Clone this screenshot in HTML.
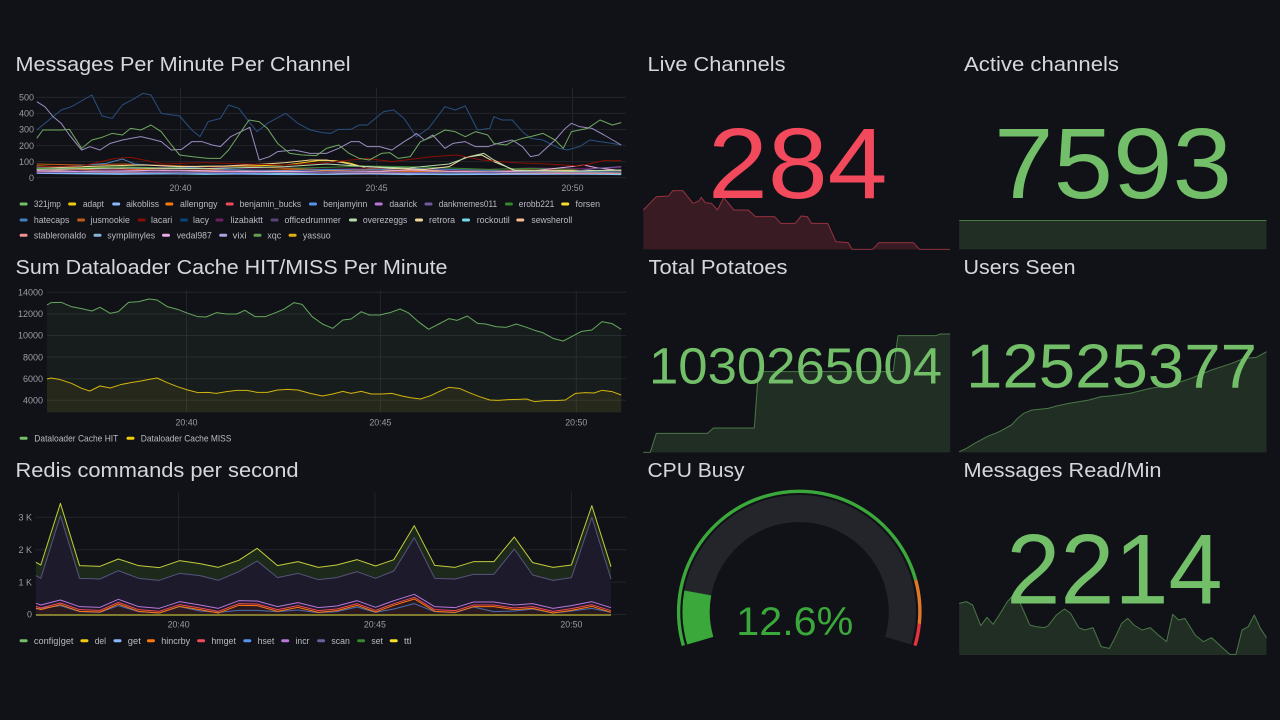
<!DOCTYPE html>
<html><head><meta charset="utf-8"><style>
html,body{margin:0;padding:0;background:#111217;}
svg{display:block;font-family:"Liberation Sans",sans-serif;}
.t{fill:#d6d7dc;font-size:20px;}
.ax{fill:#9b9ca6;font-size:9px;}
.lg{fill:#b9bac2;font-size:9px;}
.ln{fill:none;stroke-width:1;vector-effect:non-scaling-stroke;stroke-linejoin:round;}
.g{stroke:#22242a;stroke-width:1;}
</style></head><body>
<svg width="1280" height="720" viewBox="0 0 1280 720" xmlns="http://www.w3.org/2000/svg">
<rect width="1280" height="720" fill="#111217"/>

<!-- ============ Chart 1 ============ -->
<text class="t" x="15.5" y="71" textLength="335" lengthAdjust="spacingAndGlyphs">Messages Per Minute Per Channel</text>
<g>
<line class="g" x1="36" y1="97.4" x2="626" y2="97.4"/>
<line class="g" x1="36" y1="113.4" x2="626" y2="113.4"/>
<line class="g" x1="36" y1="129.5" x2="626" y2="129.5"/>
<line class="g" x1="36" y1="145.6" x2="626" y2="145.6"/>
<line class="g" x1="36" y1="161.6" x2="626" y2="161.6"/>
<line class="g" x1="36" y1="177.7" x2="626" y2="177.7"/>
<line class="g" x1="180.5" y1="88" x2="180.5" y2="178"/>
<line class="g" x1="376.5" y1="88" x2="376.5" y2="178"/>
<line class="g" x1="572.5" y1="88" x2="572.5" y2="178"/>
</g>
<g text-anchor="end">
<text class="ax" x="34" y="100.6">500</text>
<text class="ax" x="34" y="116.6">400</text>
<text class="ax" x="34" y="132.7">300</text>
<text class="ax" x="34" y="148.8">200</text>
<text class="ax" x="34" y="164.8">100</text>
<text class="ax" x="34" y="180.9">0</text>
</g>
<g text-anchor="middle">
<text class="ax" x="180.5" y="191" textLength="22" lengthAdjust="spacingAndGlyphs">20:40</text>
<text class="ax" x="376.5" y="191" textLength="22" lengthAdjust="spacingAndGlyphs">20:45</text>
<text class="ax" x="572.5" y="191" textLength="22" lengthAdjust="spacingAndGlyphs">20:50</text>
</g>
<g transform="translate(0,40) scale(0.408163,0.333333)">
<polyline class="ln" stroke="#F2CC0C" points="90,378 200,382 300,386 400,384 500,380 600,378 700,375 780,362 820,362 860,370 900,385 960,385 1060,390 1160,392 1260,395 1360,392 1460,395 1522,392"/>
<polyline class="ln" stroke="#FF780A" points="90,385 200,388 300,390 400,385 500,387 600,392 700,390 800,388 900,392 1000,395 1100,393 1200,390 1300,396 1400,398 1522,396"/>
<polyline class="ln" stroke="#5794F2" points="90,395 200,398 300,400 400,398 500,397 600,400 700,396 800,398 900,402 1000,400 1100,402 1200,400 1300,398 1400,400 1522,398"/>
<polyline class="ln" stroke="#F9BA8F" points="90,388 200,392 300,395 400,392 500,395 600,393 700,396 800,392 900,395 1000,398 1100,395 1200,398 1300,400 1400,396 1522,398"/>
<polyline class="ln" stroke="#70DBED" points="90,398 200,400 300,402 400,401 500,403 600,402 700,400 800,403 900,401 1000,404 1100,402 1200,403 1300,400 1400,402 1522,404"/>
<polyline class="ln" stroke="#6D1F62" points="90,390 200,385 300,388 400,382 500,380 600,385 700,383 800,388 900,384 1000,386 1100,390 1200,388 1300,384 1400,386 1522,383"/>
<polyline class="ln" stroke="#8AB8FF" points="90,400 300,403 500,401 700,404 900,402 1100,404 1300,403 1522,402"/>
<polyline class="ln" stroke="#37872D" points="90,386 200,383 300,380 400,384 500,378 600,380 700,385 800,382 900,378 1000,380 1100,384 1200,388 1300,385 1400,388 1450,395 1522,398"/>
<polyline class="ln" stroke="#584477" points="90,394 250,390 400,394 600,390 800,395 1000,392 1200,394 1400,396 1522,394"/>
<polyline class="ln" stroke="#F29191" points="90,396 300,398 500,396 700,398 900,399 1100,398 1300,399 1522,400"/>
<polyline class="ln" stroke="#C15C17" points="90,372 200,375 300,372 400,376 500,380 600,378 700,385 800,390 900,388 1000,392 1100,395 1200,392 1300,390 1522,392"/>
<polyline class="ln" stroke="#447EBC" points="90,382 160,380 200,376 260,370 300,357 330,372 400,378 500,385 600,390 700,392 800,388 900,390 1000,385 1100,388 1200,392 1300,395 1522,396"/>
<polyline class="ln" stroke="#E5A8E2" points="90,392 200,395 300,393 400,390 500,392 600,395 700,393 800,397 900,395 1000,390 1100,394 1200,396 1300,393 1400,380 1430,375 1460,383 1522,392"/>
<polyline class="ln" stroke="#F4D598" points="90,380 150,382 250,378 350,375 450,380 550,378 650,372 700,368 760,360 800,360 840,368 880,378 960,385 1040,388 1100,380 1140,352 1180,345 1210,365 1260,390 1340,392 1440,392 1522,390"/>
<polyline class="ln" stroke="#890F02" points="90,380 200,378 280,356 320,352 360,362 400,372 500,368 600,372 700,375 800,368 860,360 900,355 960,365 1060,350 1120,345 1180,360 1260,368 1340,372 1420,378 1480,362 1522,362"/>
<polyline class="ln" stroke="#705DA0" points="90,398 300,396 600,398 900,397 1200,398 1400,395 1460,385 1522,380"/>
<polyline class="ln" stroke="#B7DBAB" points="90,388 300,384 500,386 700,380 800,372 900,380 1000,384 1100,372 1150,350 1185,340 1210,360 1260,392 1400,394 1522,390"/>
<polyline class="ln" stroke="#28507f" points="90,270 150,210 175,200 225,165 250,228 275,235 300,195 330,175 350,160 370,165 395,220 440,228 470,270 490,290 510,245 540,235 560,195 585,205 610,245 630,275 655,250 700,220 730,250 760,270 790,278 810,280 830,268 860,268 880,255 900,255 940,215 965,210 990,235 1020,290 1050,265 1090,200 1115,210 1140,198 1170,270 1200,265 1210,230 1230,240 1255,240 1280,275 1300,295 1330,300 1370,325 1390,330 1420,320 1445,300 1470,305 1500,310 1522,315"/>
<polyline class="ln" stroke="#9a8cc0" points="90,185 110,200 130,230 150,250 170,285 200,330 220,320 245,330 270,310 300,300 345,290 370,297 395,305 420,330 445,328 470,305 495,305 520,315 540,320 565,290 590,275 612,262 635,360 660,350 680,335 720,330 760,340 800,340 830,325 860,305 880,305 900,320 930,320 960,330 990,305 1010,290 1020,280 1040,300 1060,285 1090,325 1110,310 1140,305 1165,320 1195,320 1220,310 1255,300 1280,320 1300,350 1320,345 1360,300 1385,265 1400,250 1420,260 1450,265 1480,285 1522,315"/>
<polyline class="ln" stroke="#6fa860" points="90,295 105,270 150,270 170,268 200,325 225,300 250,292 275,280 300,285 320,265 345,270 370,255 395,275 420,315 440,345 470,350 510,355 540,355 560,330 585,285 610,240 635,245 655,265 680,310 710,340 740,345 775,347 800,325 830,315 855,340 880,355 905,360 935,340 955,338 975,355 1005,350 1030,305 1060,290 1090,270 1115,275 1140,290 1165,275 1195,285 1210,310 1240,315 1255,305 1280,295 1300,290 1330,280 1360,300 1380,325 1400,275 1420,270 1440,265 1470,240 1500,255 1522,248"/>
</g>
<!-- legend 1 -->
<g>
<rect x="19.6" y="202.5" width="8" height="3" rx="1.5" fill="#73BF69"/><text class="lg" x="33.9" y="207.2" textLength="27" lengthAdjust="spacingAndGlyphs">321jmp</text>
<rect x="68.2" y="202.5" width="8" height="3" rx="1.5" fill="#F2CC0C"/><text class="lg" x="82.9" y="207.2" textLength="21" lengthAdjust="spacingAndGlyphs">adapt</text>
<rect x="112.2" y="202.5" width="8" height="3" rx="1.5" fill="#8AB8FF"/><text class="lg" x="126.1" y="207.2" textLength="33" lengthAdjust="spacingAndGlyphs">aikobliss</text>
<rect x="165.3" y="202.5" width="8" height="3" rx="1.5" fill="#FF780A"/><text class="lg" x="180" y="207.2" textLength="37.5" lengthAdjust="spacingAndGlyphs">allengngy</text>
<rect x="225.7" y="202.5" width="8" height="3" rx="1.5" fill="#F2495C"/><text class="lg" x="239.6" y="207.2" textLength="61.6" lengthAdjust="spacingAndGlyphs">benjamin_bucks</text>
<rect x="309" y="202.5" width="8" height="3" rx="1.5" fill="#5794F2"/><text class="lg" x="323.3" y="207.2" textLength="44" lengthAdjust="spacingAndGlyphs">benjamyinn</text>
<rect x="374.7" y="202.5" width="8" height="3" rx="1.5" fill="#B877D9"/><text class="lg" x="389.4" y="207.2" textLength="27.7" lengthAdjust="spacingAndGlyphs">daarick</text>
<rect x="424.5" y="202.5" width="8" height="3" rx="1.5" fill="#705DA0"/><text class="lg" x="438.8" y="207.2" textLength="58.3" lengthAdjust="spacingAndGlyphs">dankmemes011</text>
<rect x="504.9" y="202.5" width="8" height="3" rx="1.5" fill="#37872D"/><text class="lg" x="518.8" y="207.2" textLength="35.5" lengthAdjust="spacingAndGlyphs">erobb221</text>
<rect x="561.2" y="202.5" width="8" height="3" rx="1.5" fill="#FADE2A"/><text class="lg" x="575.5" y="207.2" textLength="24.5" lengthAdjust="spacingAndGlyphs">forsen</text>

<rect x="19.6" y="218.5" width="8" height="3" rx="1.5" fill="#447EBC"/><text class="lg" x="33.9" y="223.2" textLength="35.5" lengthAdjust="spacingAndGlyphs">hatecaps</text>
<rect x="77.1" y="218.5" width="8" height="3" rx="1.5" fill="#C15C17"/><text class="lg" x="90.6" y="223.2" textLength="39.2" lengthAdjust="spacingAndGlyphs">jusmookie</text>
<rect x="137.6" y="218.5" width="8" height="3" rx="1.5" fill="#890F02"/><text class="lg" x="151" y="223.2" textLength="21.2" lengthAdjust="spacingAndGlyphs">lacari</text>
<rect x="180" y="218.5" width="8" height="3" rx="1.5" fill="#0A437C"/><text class="lg" x="193" y="223.2" textLength="16" lengthAdjust="spacingAndGlyphs">lacy</text>
<rect x="215.5" y="218.5" width="8" height="3" rx="1.5" fill="#6D1F62"/><text class="lg" x="230.6" y="223.2" textLength="32.3" lengthAdjust="spacingAndGlyphs">lizabaktt</text>
<rect x="270.6" y="218.5" width="8" height="3" rx="1.5" fill="#584477"/><text class="lg" x="284.5" y="223.2" textLength="56.3" lengthAdjust="spacingAndGlyphs">officedrummer</text>
<rect x="349" y="218.5" width="8" height="3" rx="1.5" fill="#B7DBAB"/><text class="lg" x="362.9" y="223.2" textLength="44.4" lengthAdjust="spacingAndGlyphs">overezeggs</text>
<rect x="415" y="218.5" width="8" height="3" rx="1.5" fill="#F4D598"/><text class="lg" x="429" y="223.2" textLength="26.1" lengthAdjust="spacingAndGlyphs">retrora</text>
<rect x="462" y="218.5" width="8" height="3" rx="1.5" fill="#70DBED"/><text class="lg" x="476.7" y="223.2" textLength="33.1" lengthAdjust="spacingAndGlyphs">rockoutil</text>
<rect x="516.3" y="218.5" width="8" height="3" rx="1.5" fill="#F9BA8F"/><text class="lg" x="531.4" y="223.2" textLength="40.8" lengthAdjust="spacingAndGlyphs">sewsheroll</text>

<rect x="19.6" y="233.8" width="8" height="3" rx="1.5" fill="#F29191"/><text class="lg" x="33.9" y="238.5" textLength="52.2" lengthAdjust="spacingAndGlyphs">stableronaldo</text>
<rect x="93.5" y="233.8" width="8" height="3" rx="1.5" fill="#82B5D8"/><text class="lg" x="107.3" y="238.5" textLength="47.8" lengthAdjust="spacingAndGlyphs">symplimyles</text>
<rect x="162" y="233.8" width="8" height="3" rx="1.5" fill="#E5A8E2"/><text class="lg" x="176.7" y="238.5" textLength="35.1" lengthAdjust="spacingAndGlyphs">vedal987</text>
<rect x="219.2" y="233.8" width="8" height="3" rx="1.5" fill="#AEA2E0"/><text class="lg" x="232.7" y="238.5" textLength="13.8" lengthAdjust="spacingAndGlyphs">vixi</text>
<rect x="253.5" y="233.8" width="8" height="3" rx="1.5" fill="#629E51"/><text class="lg" x="267.3" y="238.5" textLength="13.9" lengthAdjust="spacingAndGlyphs">xqc</text>
<rect x="288.6" y="233.8" width="8" height="3" rx="1.5" fill="#E5AC0E"/><text class="lg" x="302.9" y="238.5" textLength="27.7" lengthAdjust="spacingAndGlyphs">yassuo</text>
</g>

<!-- ============ Chart 2 ============ -->
<text class="t" x="15.5" y="274" textLength="432" lengthAdjust="spacingAndGlyphs">Sum Dataloader Cache HIT/MISS Per Minute</text>
<g>
<line class="g" x1="47" y1="292.3" x2="626" y2="292.3"/>
<line class="g" x1="47" y1="313.9" x2="626" y2="313.9"/>
<line class="g" x1="47" y1="335.5" x2="626" y2="335.5"/>
<line class="g" x1="47" y1="357.1" x2="626" y2="357.1"/>
<line class="g" x1="47" y1="378.7" x2="626" y2="378.7"/>
<line class="g" x1="47" y1="400.3" x2="626" y2="400.3"/>
<line class="g" x1="186.5" y1="290" x2="186.5" y2="412"/>
<line class="g" x1="380.4" y1="290" x2="380.4" y2="412"/>
<line class="g" x1="576.3" y1="290" x2="576.3" y2="412"/>
</g>
<g text-anchor="end">
<text class="ax" x="43" y="295.5">14000</text>
<text class="ax" x="43" y="317.1">12000</text>
<text class="ax" x="43" y="338.7">10000</text>
<text class="ax" x="43" y="360.3">8000</text>
<text class="ax" x="43" y="381.9">6000</text>
<text class="ax" x="43" y="403.5">4000</text>
</g>
<g text-anchor="middle">
<text class="ax" x="186.5" y="425.5" textLength="22" lengthAdjust="spacingAndGlyphs">20:40</text>
<text class="ax" x="380.4" y="425.5" textLength="22" lengthAdjust="spacingAndGlyphs">20:45</text>
<text class="ax" x="576.3" y="425.5" textLength="22" lengthAdjust="spacingAndGlyphs">20:50</text>
</g>
<g transform="translate(0,250) scale(0.408163,0.333333)">
<polygon fill="#73BF69" fill-opacity="0.07" points="115,165 125,158 150,157 175,170 200,176 225,183 245,172 270,190 290,185 315,157 340,155 365,147 385,150 410,170 435,178 460,190 485,200 505,201 530,188 555,192 580,192 600,181 625,200 650,200 675,188 695,178 720,158 740,163 765,200 790,222 815,235 840,210 860,207 885,185 905,195 930,195 955,188 980,177 1000,188 1025,215 1050,238 1075,222 1100,206 1120,211 1145,198 1170,220 1190,222 1215,230 1240,232 1265,222 1290,232 1310,241 1330,248 1355,265 1380,273 1400,260 1425,244 1450,240 1475,215 1500,221 1522,238 1522,487 115,487"/>
<polygon fill="#F2CC0C" fill-opacity="0.07" points="115,387 125,384 145,388 175,400 200,415 220,423 245,408 270,414 295,404 320,398 345,393 370,387 385,384 410,398 435,410 460,420 485,428 510,427 530,430 555,425 580,421 605,421 630,427 655,427 680,420 705,418 730,420 760,430 790,438 815,432 840,424 860,430 885,424 910,432 935,432 960,430 985,438 1005,443 1030,447 1055,437 1075,425 1100,412 1125,415 1150,428 1175,440 1200,450 1220,451 1245,449 1270,448 1290,447 1310,455 1335,452 1360,452 1385,450 1410,430 1435,428 1455,429 1475,421 1500,425 1522,435 1522,487 115,487"/>
<polyline class="ln" stroke="#73BF69" stroke-opacity="0.85" points="115,165 125,158 150,157 175,170 200,176 225,183 245,172 270,190 290,185 315,157 340,155 365,147 385,150 410,170 435,178 460,190 485,200 505,201 530,188 555,192 580,192 600,181 625,200 650,200 675,188 695,178 720,158 740,163 765,200 790,222 815,235 840,210 860,207 885,185 905,195 930,195 955,188 980,177 1000,188 1025,215 1050,238 1075,222 1100,206 1120,211 1145,198 1170,220 1190,222 1215,230 1240,232 1265,222 1290,232 1310,241 1330,248 1355,265 1380,273 1400,260 1425,244 1450,240 1475,215 1500,221 1522,238"/>
<polyline class="ln" stroke="#F2CC0C" stroke-opacity="0.85" points="115,387 125,384 145,388 175,400 200,415 220,423 245,408 270,414 295,404 320,398 345,393 370,387 385,384 410,398 435,410 460,420 485,428 510,427 530,430 555,425 580,421 605,421 630,427 655,427 680,420 705,418 730,420 760,430 790,438 815,432 840,424 860,430 885,424 910,432 935,432 960,430 985,438 1005,443 1030,447 1055,437 1075,425 1100,412 1125,415 1150,428 1175,440 1200,450 1220,451 1245,449 1270,448 1290,447 1310,455 1335,452 1360,452 1385,450 1410,430 1435,428 1455,429 1475,421 1500,425 1522,435"/>
</g>
<rect x="19.6" y="436.8" width="8" height="3" rx="1.5" fill="#73BF69"/><text class="lg" x="34.3" y="441.5" textLength="84" lengthAdjust="spacingAndGlyphs">Dataloader Cache HIT</text>
<rect x="126.5" y="436.8" width="8" height="3" rx="1.5" fill="#F2CC0C"/><text class="lg" x="140.8" y="441.5" textLength="90.6" lengthAdjust="spacingAndGlyphs">Dataloader Cache MISS</text>

<!-- ============ Chart 3 ============ -->
<text class="t" x="15.5" y="477" textLength="283" lengthAdjust="spacingAndGlyphs">Redis commands per second</text>
<g>
<line class="g" x1="35" y1="517.3" x2="626" y2="517.3"/>
<line class="g" x1="35" y1="549.7" x2="626" y2="549.7"/>
<line class="g" x1="35" y1="582.1" x2="626" y2="582.1"/>
<line class="g" x1="35" y1="614.5" x2="626" y2="614.5"/>
<line class="g" x1="178.6" y1="492" x2="178.6" y2="616"/>
<line class="g" x1="374.9" y1="492" x2="374.9" y2="616"/>
<line class="g" x1="571.4" y1="492" x2="571.4" y2="616"/>
</g>
<g text-anchor="end">
<text class="ax" x="32" y="520.5">3 K</text>
<text class="ax" x="32" y="552.9">2 K</text>
<text class="ax" x="32" y="585.3">1 K</text>
<text class="ax" x="32" y="617.7">0</text>
</g>
<g text-anchor="middle">
<text class="ax" x="178.6" y="627.5" textLength="22" lengthAdjust="spacingAndGlyphs">20:40</text>
<text class="ax" x="374.9" y="627.5" textLength="22" lengthAdjust="spacingAndGlyphs">20:45</text>
<text class="ax" x="571.4" y="627.5" textLength="22" lengthAdjust="spacingAndGlyphs">20:50</text>
</g>
<g transform="translate(0,455) scale(0.408163,0.333333)">
<polygon fill="#1d2a1b" points="88,322 100,330 148,145 195,332 245,334 290,312 340,332 390,338 440,317 490,326 535,337 585,316 630,280 680,332 730,320 780,337 825,330 875,314 920,333 965,314 1015,212 1065,331 1115,337 1160,320 1210,320 1260,246 1305,323 1355,337 1400,330 1450,152 1497,335 1497,372 1450,187 1400,368 1355,376 1305,360 1260,282 1210,358 1160,358 1115,372 1065,370 1015,248 965,348 920,370 875,350 825,368 780,374 730,355 680,368 630,318 585,350 535,376 490,362 440,355 390,376 340,370 290,347 245,372 195,370 148,182 100,370 88,362"/>
<polygon fill="#1c1a2b" points="88,362 100,370 148,182 195,370 245,372 290,347 340,370 390,376 440,355 490,362 535,376 585,350 630,318 680,368 730,355 780,374 825,368 875,350 920,370 965,348 1015,248 1065,370 1115,372 1160,358 1210,358 1260,282 1305,360 1355,376 1400,368 1450,187 1497,372 1497,478 88,478"/>
<polygon fill="#2a1a1f" points="88,454 100,459 148,444 195,464 245,466 290,442 340,464 390,469 440,449 490,459 535,469 585,446 630,447 680,464 730,452 780,467 825,462 875,446 920,466 965,446 1015,427 1065,464 1115,467 1160,450 1210,450 1260,459 1305,455 1355,469 1400,461 1450,449 1497,467 1497,478 88,478"/>
<polyline class="ln" stroke="#5794F2" stroke-opacity="0.7" points="88,462 148,452 195,470 245,472 290,452 340,470 390,474 440,455 490,468 535,472 585,466 630,466 680,470 730,465 780,473 825,470 875,456 920,472 965,462 1015,446 1065,470 1115,473 1160,456 1210,470 1260,468 1305,462 1355,474 1400,468 1450,460 1497,472"/>
<polyline class="ln" stroke="#FF780A" points="88,459 100,464 148,449 195,469 245,471 290,447 340,469 390,474 440,454 490,464 535,474 585,451 630,452 680,469 730,457 780,472 825,467 875,451 920,471 965,451 1015,432 1065,469 1115,472 1160,455 1210,455 1260,464 1305,460 1355,474 1400,466 1450,454 1497,472"/>
<polyline class="ln" stroke="#F2495C" points="88,454 100,459 148,444 195,464 245,466 290,442 340,464 390,469 440,449 490,459 535,469 585,446 630,447 680,464 730,452 780,467 825,462 875,446 920,466 965,446 1015,427 1065,464 1115,467 1160,450 1210,450 1260,459 1305,455 1355,469 1400,461 1450,449 1497,467"/>
<polyline class="ln" stroke="#B877D9" points="88,445 100,450 148,435 195,455 245,457 290,433 340,455 390,460 440,440 490,450 535,460 585,437 630,438 680,455 730,443 780,458 825,453 875,437 920,457 965,437 1015,418 1065,455 1115,458 1160,441 1210,441 1260,450 1305,446 1355,460 1400,452 1450,440 1497,458"/>
<polyline class="ln" stroke="#57537e" points="88,362 100,370 148,182 195,370 245,372 290,347 340,370 390,376 440,355 490,362 535,376 585,350 630,318 680,368 730,355 780,374 825,368 875,350 920,370 965,348 1015,248 1065,370 1115,372 1160,358 1210,358 1260,282 1305,360 1355,376 1400,368 1450,187 1497,372"/>
<polyline class="ln" stroke="#c3cc3c" points="88,322 100,330 148,145 195,332 245,334 290,312 340,332 390,338 440,317 490,326 535,337 585,316 630,280 680,332 730,320 780,337 825,330 875,314 920,333 965,314 1015,212 1065,331 1115,337 1160,320 1210,320 1260,246 1305,323 1355,337 1400,330 1450,152 1497,335"/>
</g>
<line x1="36" y1="615" x2="611" y2="615" stroke="#807d30" stroke-width="2"/>
<g>
<rect x="19.6" y="639.2" width="8" height="3" rx="1.5" fill="#73BF69"/><text class="lg" x="33.9" y="643.9" textLength="39.6" lengthAdjust="spacingAndGlyphs">config|get</text>
<rect x="80.4" y="639.2" width="8" height="3" rx="1.5" fill="#F2CC0C"/><text class="lg" x="94.7" y="643.9" textLength="11.4" lengthAdjust="spacingAndGlyphs">del</text>
<rect x="113.5" y="639.2" width="8" height="3" rx="1.5" fill="#8AB8FF"/><text class="lg" x="127.8" y="643.9" textLength="13" lengthAdjust="spacingAndGlyphs">get</text>
<rect x="146.9" y="639.2" width="8" height="3" rx="1.5" fill="#FF780A"/><text class="lg" x="161.2" y="643.9" textLength="29" lengthAdjust="spacingAndGlyphs">hincrby</text>
<rect x="197.1" y="639.2" width="8" height="3" rx="1.5" fill="#F2495C"/><text class="lg" x="211.4" y="643.9" textLength="24.5" lengthAdjust="spacingAndGlyphs">hmget</text>
<rect x="243.3" y="639.2" width="8" height="3" rx="1.5" fill="#5794F2"/><text class="lg" x="257.6" y="643.9" textLength="16.7" lengthAdjust="spacingAndGlyphs">hset</text>
<rect x="281.2" y="639.2" width="8" height="3" rx="1.5" fill="#B877D9"/><text class="lg" x="295.5" y="643.9" textLength="13.9" lengthAdjust="spacingAndGlyphs">incr</text>
<rect x="317.1" y="639.2" width="8" height="3" rx="1.5" fill="#705DA0"/><text class="lg" x="331.4" y="643.9" textLength="18.4" lengthAdjust="spacingAndGlyphs">scan</text>
<rect x="357.1" y="639.2" width="8" height="3" rx="1.5" fill="#37872D"/><text class="lg" x="371.4" y="643.9" textLength="11.5" lengthAdjust="spacingAndGlyphs">set</text>
<rect x="389.7" y="639.2" width="8" height="3" rx="1.5" fill="#FADE2A"/><text class="lg" x="404" y="643.9" textLength="7.4" lengthAdjust="spacingAndGlyphs">ttl</text>
</g>

<!-- ============ Live Channels ============ -->
<text class="t" x="647.5" y="71" textLength="138" lengthAdjust="spacingAndGlyphs">Live Channels</text>
<g transform="translate(640,40) scale(0.408163,0.333333)">
<polygon fill="#F2495C" fill-opacity="0.18" points="8,628 8,510 40,470 70,468 80,452 105,452 130,490 145,482 150,472 160,488 175,490 190,510 205,472 230,510 265,510 283,530 330,530 345,550 380,550 395,528 410,530 420,550 460,550 480,605 510,608 520,628 570,628 585,608 670,608 685,628 760,628"/>
<polyline class="ln" stroke="#F2495C" stroke-opacity="0.55" points="8,510 40,470 70,468 80,452 105,452 130,490 145,482 150,472 160,488 175,490 190,510 205,472 230,510 265,510 283,530 330,530 345,550 380,550 395,528 410,530 420,550 460,550 480,605 510,608 520,628 570,628 585,608 670,608 685,628 760,628"/>
</g>
<text x="708" y="198" font-size="100" fill="#F2495C" textLength="179.5" lengthAdjust="spacingAndGlyphs">284</text>

<!-- ============ Active channels ============ -->
<text class="t" x="964" y="71" textLength="155" lengthAdjust="spacingAndGlyphs">Active channels</text>
<rect x="959.2" y="220.3" width="307.3" height="29" fill="#73BF69" fill-opacity="0.16"/>
<line x1="959.2" y1="220.5" x2="1266.5" y2="220.5" stroke="#73BF69" stroke-opacity="0.55" stroke-width="1"/>
<text x="994" y="198" font-size="100" fill="#73BF69" textLength="238" lengthAdjust="spacingAndGlyphs">7593</text>

<!-- ============ Total Potatoes ============ -->
<text class="t" x="648.5" y="274" textLength="139" lengthAdjust="spacingAndGlyphs">Total Potatoes</text>
<g transform="translate(640,250) scale(0.408163,0.333333)">
<polygon fill="#73BF69" fill-opacity="0.16" points="8,607 25,607 40,550 165,550 180,534 280,534 290,365 620,365 632,257 725,257 735,252 760,252 760,607"/>
<polyline class="ln" stroke="#73BF69" stroke-opacity="0.55" points="8,607 25,607 40,550 165,550 180,534 280,534 290,365 620,365 632,257 725,257 735,252 760,252"/>
</g>
<text x="649" y="383.5" font-size="51" fill="#73BF69" textLength="293" lengthAdjust="spacingAndGlyphs">1030265004</text>

<!-- ============ Users Seen ============ -->
<text class="t" x="963.5" y="274" textLength="112" lengthAdjust="spacingAndGlyphs">Users Seen</text>
<g transform="translate(640,250) scale(0.408163,0.333333)">
<polygon fill="#73BF69" fill-opacity="0.16" points="782,605 800,595 820,580 850,560 880,545 910,525 925,505 940,490 960,480 1000,475 1020,468 1050,460 1100,450 1130,440 1150,438 1200,430 1250,415 1300,405 1350,385 1380,370 1400,360 1450,340 1480,325 1510,322 1535,305 1535,607 782,607"/>
<polyline class="ln" stroke="#73BF69" stroke-opacity="0.55" points="782,605 800,595 820,580 850,560 880,545 910,525 925,505 940,490 960,480 1000,475 1020,468 1050,460 1100,450 1130,440 1150,438 1200,430 1250,415 1300,405 1350,385 1380,370 1400,360 1450,340 1480,325 1510,322 1535,305"/>
</g>
<text x="966" y="387.3" font-size="62" fill="#73BF69" textLength="291" lengthAdjust="spacingAndGlyphs">12525377</text>

<!-- ============ CPU Busy ============ -->
<text class="t" x="647.5" y="477" textLength="97" lengthAdjust="spacingAndGlyphs">CPU Busy</text>
<path d="M700.25,640.64 A103.1,103.1 0 1 1 898.15,640.64" fill="none" stroke="#23252b" stroke-width="27.2"/>
<path d="M700.25,640.64 A103.1,103.1 0 0 1 697.82,592.92" fill="none" stroke="#3aa83a" stroke-width="27.2"/>
<path d="M683.35,645.58 A120.7,120.7 0 1 1 915.68,580.05" fill="none" stroke="#3aa83a" stroke-width="3.4"/>
<path d="M915.68,580.05 A120.7,120.7 0 0 1 919.28,623.90" fill="none" stroke="#e0782a" stroke-width="3.4"/>
<path d="M919.28,623.90 A120.7,120.7 0 0 1 915.05,645.58" fill="none" stroke="#e8333f" stroke-width="3.4"/>
<text x="736.3" y="635" font-size="40" fill="#3aa83a" textLength="117" lengthAdjust="spacingAndGlyphs">12.6%</text>

<!-- ============ Messages Read/Min ============ -->
<text class="t" x="963.5" y="477" textLength="198" lengthAdjust="spacingAndGlyphs">Messages Read/Min</text>
<g transform="translate(640,455) scale(0.408163,0.333333)">
<polygon fill="#73BF69" fill-opacity="0.16" points="782,445 800,440 815,450 835,512 850,487 865,508 880,480 900,440 915,420 930,440 955,510 970,515 990,518 1000,512 1020,480 1040,462 1055,475 1075,518 1090,525 1110,518 1130,575 1150,580 1165,545 1180,505 1195,490 1210,510 1230,525 1250,518 1270,540 1290,560 1305,478 1320,495 1335,490 1360,540 1380,560 1400,548 1420,570 1445,598 1460,598 1475,525 1490,515 1505,480 1520,520 1535,548 1535,600 782,600"/>
<polyline class="ln" stroke="#73BF69" stroke-opacity="0.55" points="782,445 800,440 815,450 835,512 850,487 865,508 880,480 900,440 915,420 930,440 955,510 970,515 990,518 1000,512 1020,480 1040,462 1055,475 1075,518 1090,525 1110,518 1130,575 1150,580 1165,545 1180,505 1195,490 1210,510 1230,525 1250,518 1270,540 1290,560 1305,478 1320,495 1335,490 1360,540 1380,560 1400,548 1420,570 1445,598 1460,598 1475,525 1490,515 1505,480 1520,520 1535,548"/>
</g>
<text x="1006.4" y="603.3" font-size="99" fill="#73BF69" textLength="216.2" lengthAdjust="spacingAndGlyphs">2214</text>
</svg>
</body></html>
